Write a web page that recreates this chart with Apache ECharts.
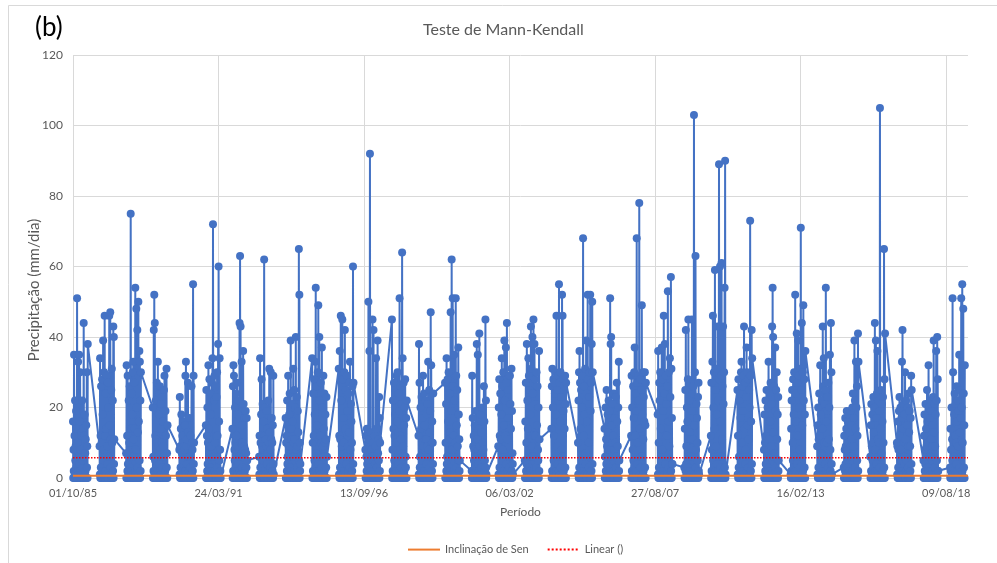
<!DOCTYPE html>
<html><head><meta charset="utf-8">
<script src="https://cdn.jsdelivr.net/npm/echarts@6/dist/echarts.min.js"></script>
<style>html,body{margin:0;padding:0;background:#fff}#c{width:997px;height:563px}</style>
</head><body><div id="c"></div>
<script>
// Precipitation (mm/dia): one array per wet season (starting 1 Oct), one value every 3.5 days
const s85 = [16,0,8,2,35,0,12,1,22,5,9,0,19,3,14,0,51,0,10,2,33,1,6,0,35,4,16,0,30,2,8,0,12,1,13,0,22,3,5,0,14,0,44,6,12,0,18,1,7,2,11,0,15,0,30,3,9,0,38];
const s86 = [9,1,34,0,12,3,26,0,10,0,28,2,18,0,39,5,8,1,30,0,46,0,12,2,24,0,14,1,29,0,9,4,27,0,20,0,6,2,46,1,15,0,47,3,11,0,25,0,31,1,10,0,22,2,43,0,40,4,11];
const s87 = [7,0,32,0,12,2,29,4,12,0,22,1,10,0,26,0,10,3,75,0,14,2,24,0,18,0,30,1,33,6,11,0,27,0,14,2,54,0,8,1,48,0,20,0,42,3,13,0,50,1,16,0,36,5,33,0,22,2,30];
const s88 = [20,0,6,2,42,0,52,1,44,5,12,0,22,3,11,0,27,0,10,2,33,1,9,0,18,4,24,0,26,2,8,0,21,1,14,0,10,3,23,0,16,0,9,6,25,0,29,1,12,2,19,0,12,0,31,3,7,0,15];
const s89 = [8,1,23,0,9,3,14,0,18,0,7,2,12,0,10,5,16,1,9,0,8,0,15,2,29,0,33,1,9,0,11,4,7,0,27,0,13,2,6,1,17,0,6,3,12,0,9,0,26,1,10,0,8,2,55,0,29,4,10];
const s90 = [15,0,25,0,12,2,20,4,10,0,32,1,14,0,28,0,9,3,24,0,18,2,9,0,27,0,34,1,72,6,11,0,22,0,29,2,10,0,26,1,12,0,23,0,30,3,12,0,38,1,60,0,16,5,34,0,8,2,0];
const s91 = [14,0,26,2,32,0,29,1,8,5,20,0,10,3,24,0,12,0,27,2,9,1,18,0,22,4,6,0,44,2,63,0,43,1,10,0,33,3,15,0,10,0,36,6,21,0,9,1,17,2,8,0,19,0,7,3,17,0,5];
const s92 = [6,1,12,0,34,3,10,0,18,0,28,2,9,0,21,5,8,1,16,0,62,0,12,2,20,0,11,1,9,0,19,4,14,0,7,0,22,2,10,1,31,0,13,3,8,0,30,0,11,1,17,0,10,2,15,0,29,4,1];
const s93 = [17,0,10,0,12,2,22,4,6,0,29,1,9,0,18,0,24,3,9,0,39,2,14,0,11,0,21,1,16,6,31,0,10,0,25,2,11,0,20,1,40,0,8,0,23,3,9,0,19,1,13,0,65,5,52,0,10,2,4];
const s94 = [34,0,10,2,24,0,12,1,28,5,18,0,33,3,54,0,7,0,26,2,15,1,30,0,49,4,11,0,40,2,22,0,12,1,27,0,10,3,37,0,20,0,9,6,29,0,14,1,24,2,10,0,18,0,11,3,23,0,6];
const s95 = [31,1,12,0,36,3,11,0,46,0,22,2,9,0,45,5,28,1,17,0,10,0,30,2,42,0,14,1,25,0,6,4,29,0,19,0,9,2,24,1,13,0,27,3,33,0,8,0,21,1,16,0,10,2,26,0,60,4,27];
const s96 = [8,0,12,0,6,2,14,4,7,0,5,1,50,0,11,0,36,3,92,0,7,2,13,0,8,0,6,1,45,6,10,0,42,0,5,2,12,0,4,1,9,0,34,0,14,3,6,0,39,1,7,0,11,5,23,0,17,2,10];
const s97 = [45,0,8,2,22,0,14,1,27,5,12,0,18,3,25,0,10,0,29,2,16,1,30,0,13,4,24,0,19,2,51,0,12,1,26,0,11,3,21,0,64,0,34,6,9,0,27,1,15,2,20,0,28,0,6,3,17,0,22];
const s98 = [12,1,38,0,27,3,6,0,20,0,14,2,23,0,10,5,17,1,29,0,9,0,24,2,15,0,11,1,22,0,11,4,18,0,9,0,21,2,33,1,8,0,25,3,13,0,19,0,47,1,32,0,10,2,16,0,10,4,24];
const s99 = [27,0,10,0,21,2,34,4,6,0,28,1,16,0,30,0,11,3,24,0,13,2,47,0,19,0,62,1,8,6,51,0,26,0,12,2,35,0,22,1,10,0,51,0,29,3,15,0,25,1,9,0,37,5,18,0,11,2,5];
const s00 = [2,0,29,2,17,0,9,1,12,5,8,0,15,3,7,0,19,0,6,2,38,1,11,0,35,4,8,0,14,2,41,0,9,1,18,0,7,3,13,0,7,0,20,6,10,0,8,1,26,2,16,0,5,0,45,3,22,0,1];
const s01 = [9,1,20,0,28,3,12,0,24,0,11,2,18,0,34,5,26,1,8,0,30,0,15,2,39,0,22,1,12,0,37,4,27,0,44,0,11,2,25,1,17,0,29,3,6,0,29,0,21,1,14,0,31,2,19,0,7,4,1];
const s02 = [5,0,16,0,27,2,10,4,38,0,22,1,14,0,34,0,29,3,6,0,25,2,18,0,43,0,31,1,9,6,40,0,24,0,45,2,12,0,38,1,28,0,12,0,21,3,30,0,15,1,26,0,8,5,20,0,36,2,11];
const s03 = [14,0,26,2,31,0,20,1,28,5,12,0,27,3,24,0,30,0,18,2,46,1,25,0,9,4,29,0,22,2,55,0,27,1,16,0,30,3,23,0,8,0,52,6,46,0,28,1,19,2,26,0,14,0,29,3,21,0,27];
const s04 = [10,1,22,0,30,3,36,0,27,0,14,2,25,0,12,5,20,1,29,0,68,0,12,2,26,0,18,1,31,0,7,4,39,0,24,0,16,2,52,1,28,0,10,3,23,0,30,0,52,1,19,0,27,2,38,0,50,4,30];
const s05 = [14,0,6,0,20,2,11,4,25,0,9,1,18,0,13,0,22,3,8,0,19,2,51,0,38,0,40,1,15,6,10,0,21,0,12,2,24,0,8,1,17,0,10,0,23,3,6,0,27,1,16,0,9,5,20,0,33,2,5];
const s06 = [12,0,29,2,20,0,8,1,26,5,17,0,30,3,37,0,12,0,24,2,19,1,68,0,27,4,10,0,29,2,22,0,78,1,14,0,28,3,6,0,25,0,49,6,18,0,30,1,11,2,23,0,16,0,30,3,15,0,27];
const s07 = [18,1,36,0,10,3,27,0,22,0,30,2,14,0,25,5,37,1,8,0,28,0,19,2,46,0,24,1,38,0,12,4,29,0,21,0,12,2,26,1,53,0,16,3,30,0,9,0,34,1,23,0,57,2,31,0,17,4,4];
const s08 = [3,0,14,0,25,2,42,4,9,0,20,1,16,0,28,0,45,3,6,0,22,2,13,0,27,0,11,1,19,6,45,0,24,0,11,2,26,0,103,1,15,0,30,0,63,3,8,0,21,1,17,0,10,5,23,0,27,2,1];
const s09 = [12,0,27,2,8,0,33,1,46,5,20,0,30,3,14,0,59,0,25,2,9,1,31,0,18,4,43,0,22,2,6,0,89,1,28,0,60,3,16,0,29,0,61,6,11,0,26,1,43,2,21,0,30,0,54,3,90,0,1];
const s10 = [25,1,12,0,28,3,6,0,22,0,24,2,17,0,30,5,33,1,10,0,26,0,19,2,29,0,43,1,14,0,27,4,8,0,23,0,37,2,30,1,15,0,28,3,11,0,25,0,20,1,73,0,29,2,16,0,42,4,34];
const s11 = [8,0,18,0,10,2,22,4,12,0,25,1,6,0,20,0,14,3,33,0,11,2,24,0,16,0,27,1,9,6,21,0,43,0,54,2,40,0,13,1,26,0,7,0,37,3,19,0,25,1,30,0,11,5,18,0,23,2,5];
const s12 = [1,0,14,2,22,0,25,1,10,5,28,0,18,3,30,0,6,0,52,2,24,1,16,0,41,4,27,0,12,2,39,0,29,1,20,0,8,3,31,0,71,0,25,6,44,0,15,1,30,2,49,0,22,0,28,3,18,0,36];
const s13 = [9,1,15,0,20,3,11,0,24,0,12,2,32,0,18,5,7,1,22,0,14,0,43,2,26,0,34,1,10,0,21,4,25,0,54,0,16,2,10,1,23,0,19,3,27,0,11,0,20,1,35,0,8,2,44,0,30,4,1];
const s14 = [3,0,12,0,8,2,17,4,9,0,14,1,19,0,8,0,16,3,10,0,18,2,6,0,13,0,19,1,9,6,15,0,11,0,20,2,24,0,9,1,17,0,39,0,22,3,14,0,33,1,20,0,26,5,12,0,41,2,33];
const s15 = [6,0,15,2,21,0,9,1,18,5,10,0,23,3,13,0,20,0,44,2,8,1,39,0,17,4,24,0,36,2,11,0,22,1,10,0,19,3,105,0,14,0,25,6,7,0,21,1,16,2,23,0,10,0,65,3,28,0,41];
const s16 = [10,1,9,0,16,3,8,0,19,0,23,2,12,0,20,5,8,1,17,0,33,0,42,2,14,0,21,1,6,0,18,4,30,0,11,0,22,2,5,1,15,0,20,3,9,0,24,0,13,1,19,0,9,2,17,0,29,4,25];
const s17 = [5,0,12,0,18,2,8,4,21,0,14,1,9,0,25,0,16,3,10,0,32,2,20,0,6,0,17,1,22,6,11,0,19,0,9,2,15,0,23,1,39,0,13,0,21,3,9,0,18,1,36,0,22,5,40,0,28,2,2];
const s18 = [3,0,14,2,8,0,20,1,11,5,51,0,30,3,6,0,18,0,24,2,12,1,21,0,10,4,26,0,16,2,22,0,9,1,19,0,35,3,13,0,25,0,17,6,51,0,20,1,55,2,10,0,48,0,24,3,15,0,32];

const seasonYears = [1985, 1986, 1987, 1988, 1989, 1990, 1991, 1992, 1993, 1994, 1995, 1996, 1997, 1998, 1999, 2000, 2001,
  2002, 2003, 2004, 2005, 2006, 2007, 2008, 2009, 2010, 2011, 2012, 2013, 2014, 2015, 2016, 2017, 2018];
const seasonValues = [s85, s86, s87, s88, s89, s90, s91, s92, s93, s94, s95, s96, s97, s98, s99, s00, s01,
  s02, s03, s04, s05, s06, s07, s08, s09, s10, s11, s12, s13, s14, s15, s16, s17, s18];
const stepDays = 3.5;

const senLevel = [0.65, 0.65];      // Inclinação de Sen (start, end)
const linearLevel = [5.75, 5.75];   // Linear () trend (start, end)
const xTickLabels = ['01/10/85', '24/03/91', '13/09/96', '06/03/02', '27/08/07', '16/02/13', '09/08/18'];
const yTicks = [0, 20, 40, 60, 80, 100, 120];

const DAY = 86400000;
const base = Date.UTC(1985, 9, 1);
const xMax = 12300;
const rain = [];
seasonYears.forEach(function (y, k) {
  const start = (Date.UTC(y, 9, 1) - base) / DAY;
  seasonValues[k].forEach(function (v, i) { rain.push([start + i * stepDays, v]); });
});

const FONT = 'Lato, "Open Sans", sans-serif';
const chart = echarts.init(document.getElementById('c'), null, { renderer: 'canvas' });
chart.setOption({
  animation: false,
  backgroundColor: '#ffffff',
  textStyle: { fontFamily: FONT },
  title: {
    text: 'Teste de Mann-Kendall', left: 423, top: 22, padding: 0,
    textStyle: { fontSize: 16, fontWeight: 'normal', color: '#595959', fontFamily: FONT }
  },
  legend: {
    left: 402, top: 539, itemWidth: 32, itemHeight: 14, itemGap: 18,
    data: ['Inclinação de Sen', 'Linear ()'],
    itemStyle: { opacity: 0 },
    textStyle: { fontSize: 11, color: '#595959', fontFamily: FONT }
  },
  grid: { left: 73, right: 29, top: 55, bottom: 85 },
  xAxis: {
    type: 'value', min: 0, max: xMax, interval: 2000,
    name: 'Período', nameLocation: 'middle', nameGap: 28,
    nameTextStyle: { fontSize: 12, color: '#595959', fontFamily: FONT },
    axisLine: { show: true, lineStyle: { color: '#D9D9D9' } },
    axisTick: { show: false },
    axisLabel: {
      color: '#595959', fontSize: 11, margin: 10, showMaxLabel: false, fontFamily: FONT,
      formatter: function (v) { const i = Math.round(v / 2000); return (v % 2000 === 0 && xTickLabels[i]) ? xTickLabels[i] : ''; }
    },
    splitLine: { show: true, showMaxLine: false, lineStyle: { color: '#D9D9D9' } }
  },
  yAxis: {
    type: 'value', min: yTicks[0], max: yTicks[yTicks.length - 1], interval: 20,
    axisLine: { show: false }, axisTick: { show: false },
    axisLabel: { color: '#595959', fontSize: 12, margin: 10, fontFamily: FONT },
    splitLine: { lineStyle: { color: '#D9D9D9' } }
  },
  graphic: [
    { type: 'line', shape: { x1: 8.5, y1: 5.5, x2: 997, y2: 5.5 }, style: { stroke: '#D9D9D9', lineWidth: 1 }, silent: true },
    { type: 'line', shape: { x1: 8.5, y1: 5.5, x2: 8.5, y2: 563 }, style: { stroke: '#D9D9D9', lineWidth: 1 }, silent: true },
    { type: 'text', left: 35, top: 15, style: { text: '(b)', fill: '#000000', font: '26px ' + FONT } },
    { type: 'text', x: 34, y: 290, rotation: Math.PI / 2,
      style: { text: 'Precipitação (mm/dia)', fill: '#595959', font: '15px ' + FONT, align: 'center', verticalAlign: 'middle' } }
  ],
  series: [
    {
      name: 'Precipitação', type: 'line', data: rain, z: 2,
      symbol: 'circle', symbolSize: 8, showSymbol: true,
      itemStyle: { color: '#4472C4' },
      lineStyle: { color: '#4472C4', width: 2 }
    },
    {
      name: 'Inclinação de Sen', type: 'line', z: 3,
      data: [[0, senLevel[0]], [xMax, senLevel[1]]], symbol: 'none',
      itemStyle: { color: '#ED7D31' }, lineStyle: { color: '#ED7D31', width: 2 }
    },
    {
      name: 'Linear ()', type: 'line', z: 4,
      data: [[0, linearLevel[0]], [xMax, linearLevel[1]]], symbol: 'none',
      itemStyle: { color: '#FF0000' }, lineStyle: { color: '#FF0000', width: 1.5, type: 'dotted' }
    }
  ]
});
</script></body></html>
